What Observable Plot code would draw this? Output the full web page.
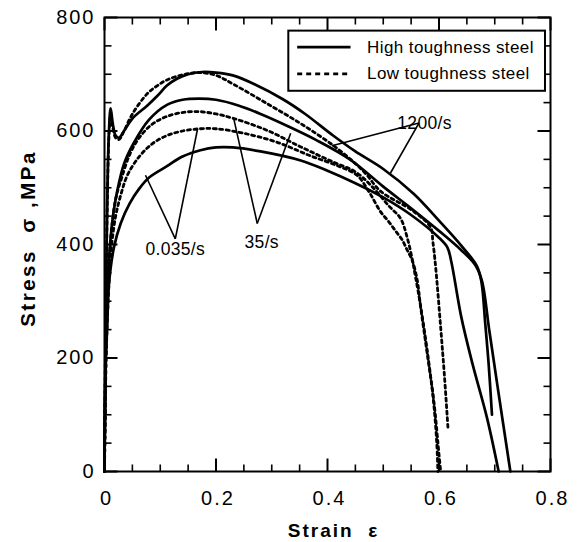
<!DOCTYPE html>
<html><head><meta charset="utf-8">
<script src="https://cdn.jsdelivr.net/npm/d3@7"></script>
<script src="https://cdn.jsdelivr.net/npm/@observablehq/plot@0.6"></script>
<style>
body{margin:0;background:#fff;}
#chart svg{font-family:"Liberation Sans",Arial,Helvetica,sans-serif;}
</style></head><body><div id="chart"></div>
<script>
// ---- data: [strain, stress MPa] ----
const highTough_0035 = [[0,0],[0.002,180],[0.005,260],[0.008,330],[0.017,395],[0.029,437],[0.045,472],[0.062,498],[0.08,518],[0.112,538],[0.14,555],[0.172,566],[0.2,571],[0.23,571],[0.28,564],[0.352,548],[0.4,530],[0.45,508],[0.5,483],[0.55,452],[0.6,412],[0.615,395],[0.622,370],[0.64,272],[0.66,190],[0.686,95],[0.707,0]];
const highTough_35 = [[0,0],[0.002,200],[0.005,320],[0.01,400],[0.016,455],[0.023,495],[0.035,542],[0.052,578],[0.08,620],[0.112,646],[0.14,655],[0.17,657],[0.2,655],[0.24,645],[0.28,630],[0.33,608],[0.38,584],[0.44,550],[0.5,502],[0.555,460],[0.6,424],[0.64,390],[0.665,364],[0.677,336],[0.69,250],[0.705,150],[0.728,0]];
const highTough_1200 = [[0,0],[0.002,250],[0.005,480],[0.008,600],[0.011,640],[0.015,612],[0.02,592],[0.026,588],[0.035,600],[0.05,622],[0.077,645],[0.095,662],[0.112,680],[0.13,692],[0.15,700],[0.175,704],[0.2,703],[0.23,698],[0.27,682],[0.32,656],[0.36,630],[0.41,592],[0.45,564],[0.5,533],[0.555,489],[0.6,442],[0.64,398],[0.668,362],[0.676,335],[0.683,260],[0.689,190],[0.695,100]];
const lowTough_0035 = [[0,0],[0.003,200],[0.007,310],[0.012,390],[0.02,450],[0.03,490],[0.041,522],[0.06,552],[0.085,577],[0.112,592],[0.14,600],[0.172,604],[0.2,604],[0.25,596],[0.31,580],[0.37,556],[0.42,538],[0.453,522],[0.475,492],[0.495,458],[0.51,440],[0.522,424],[0.534,408],[0.543,390],[0.552,372],[0.561,337],[0.567,290],[0.58,200],[0.591,122],[0.6,30],[0.603,0]];
const lowTough_35 = [[0,0],[0.003,230],[0.007,340],[0.012,420],[0.02,480],[0.03,515],[0.045,558],[0.06,585],[0.083,610],[0.11,625],[0.142,633],[0.172,634],[0.2,630],[0.232,622],[0.292,601],[0.352,572],[0.411,545],[0.45,528],[0.48,502],[0.51,468],[0.531,446],[0.543,412],[0.552,374],[0.558,342],[0.567,292],[0.58,205],[0.59,125],[0.596,50],[0.598,0]];
const lowTough_1200 = [[0,0],[0.002,250],[0.005,470],[0.008,590],[0.011,628],[0.015,605],[0.02,588],[0.026,585],[0.035,600],[0.05,630],[0.077,666],[0.095,680],[0.112,690],[0.14,699],[0.17,703],[0.2,698],[0.232,682],[0.292,648],[0.352,613],[0.411,574],[0.453,540],[0.471,522],[0.495,494],[0.555,458],[0.585,430],[0.589,405],[0.594,360],[0.603,254],[0.61,165],[0.616,78]];

const xTicks = [0, 0.2, 0.4, 0.6, 0.8];
const xTickLabels = ["0", "0.2", "0.4", "0.6", "0.8"];
const yTicks = [0, 200, 400, 600, 800];
const yTickLabels = ["0", "200", "400", "600", "800"];
const steels = ["High toughness steel", "Low toughness steel"];
const rateLabels = ["0.035/s", "35/s", "1200/s"];
const xTitle = "Strain\u00a0\u00a0ε";
const yTitle = "Stress\u00a0\u00a0σ\u00a0,MPa";

// ---- annotation layout (data units) ----
const labelAt = [[0.127, 391], [0.282, 404], [0.574, 613]];
const labelAnchor = ["middle", "middle", "start"];
const leaders = [
  [[0.127, 410], [0.0735, 522]], [[0.127, 410], [0.167, 604]],
  [[0.274, 437], [0.232, 621]], [[0.274, 437], [0.334, 596]],
  [[0.564, 614], [0.408, 574]], [[0.564, 614], [0.513, 526]]
];
const legendBox = {x1: 0.3306, x2: 0.791, y1: 776, y2: 670};
const legendRows = [{y: 747.7}, {y: 700.8}];
const legendSampleX = [0.3456, 0.4413];
const legendTextX = 0.471;

// ---- build rows ----
const rows = (pts, steel, rate) => pts.map(([s, v]) => ({strain: s, stress: v, steel, rate}));
const solidRows = [
  ...rows(highTough_0035, steels[0], rateLabels[0]),
  ...rows(highTough_35, steels[0], rateLabels[1]),
  ...rows(highTough_1200, steels[0], rateLabels[2])
];
const dottedRows = [
  ...rows(lowTough_0035, steels[1], rateLabels[0]),
  ...rows(lowTough_35, steels[1], rateLabels[1]),
  ...rows(lowTough_1200, steels[1], rateLabels[2])
];

const W = 578, H = 542, mL = 104, mR = 28, mT = 17, mB = 71;
const innerW = W - mL - mR, innerH = H - mT - mB;
const xDom = [0, 0.8], yDom = [0, 800];
// inward tick lengths (px) expressed in data units
const MAJ = 13, MIN = 7;
const xpp = (xDom[1] - xDom[0]) / innerW, ypp = (yDom[1] - yDom[0]) / innerH;
const xMinor = d3.range(0, 0.8001, 0.05).filter(v => Math.abs(v / 0.2 - Math.round(v / 0.2)) > 1e-6);
const yMinor = d3.range(0, 800.1, 50).filter(v => v % 200 !== 0);
const xTickMarks = (vals, len, w) => [
  Plot.link(vals, {x1: d => d, x2: d => d, y1: yDom[0], y2: yDom[0] + len * ypp, stroke: "black", strokeWidth: w}),
  Plot.link(vals, {x1: d => d, x2: d => d, y1: yDom[1], y2: yDom[1] - len * ypp, stroke: "black", strokeWidth: w})
];
const yTickMarks = (vals, len, w) => [
  Plot.link(vals, {y1: d => d, y2: d => d, x1: xDom[0], x2: xDom[0] + len * xpp, stroke: "black", strokeWidth: w}),
  Plot.link(vals, {y1: d => d, y2: d => d, x1: xDom[1], x2: xDom[1] - len * xpp, stroke: "black", strokeWidth: w})
];

const plot = Plot.plot({
  width: W, height: H,
  marginLeft: mL, marginRight: mR, marginTop: mT, marginBottom: mB,
  x: {domain: xDom, axis: null},
  y: {domain: yDom, axis: null},
  style: {background: "white", color: "black", fontFamily: '"Liberation Sans", Arial, Helvetica, sans-serif'},
  marks: [
    ...xTickMarks(xTicks, MAJ, 2),
    ...xTickMarks(xMinor, MIN, 1.6),
    ...yTickMarks(yTicks, MAJ, 2),
    ...yTickMarks(yMinor, MIN, 1.6),
    // curves
    Plot.line(dottedRows, {x: "strain", y: "stress", z: "rate", stroke: "black", strokeWidth: 2.8, strokeDasharray: "3,3.5", curve: "catmull-rom"}),
    Plot.line(solidRows, {x: "strain", y: "stress", z: "rate", stroke: "black", strokeWidth: 2.7, curve: "catmull-rom"}),
    // leader lines + rate labels
    Plot.link(leaders, {x1: d => d[0][0], y1: d => d[0][1], x2: d => d[1][0], y2: d => d[1][1], stroke: "black", strokeWidth: 1.6}),
    Plot.text(rateLabels, {x: (d, i) => labelAt[i][0], y: (d, i) => labelAt[i][1], text: d => d, textAnchor: (d, i) => labelAnchor[i], fontSize: 17.5, fill: "black"}),
    // legend
    Plot.rect([legendBox], {x1: "x1", x2: "x2", y1: "y1", y2: "y2", fill: "white", stroke: "black", strokeWidth: 2}),
    Plot.link([legendRows[0]], {x1: legendSampleX[0], x2: legendSampleX[1], y1: "y", y2: "y", stroke: "black", strokeWidth: 2.7}),
    Plot.link([legendRows[1]], {x1: legendSampleX[0], x2: legendSampleX[1], y1: "y", y2: "y", stroke: "black", strokeWidth: 2.8, strokeDasharray: "5,4"}),
    Plot.text(steels, {x: legendTextX, y: (d, i) => legendRows[i].y, text: d => d, textAnchor: "start", fontSize: 17, fill: "black"}),
    // tick labels
    Plot.text(xTicks, {x: d => d, text: (d, i) => xTickLabels[i], frameAnchor: "bottom", lineAnchor: "middle", textAnchor: "middle", dy: 27, dx: 2, fontSize: 20, fill: "black"}),
    Plot.text(yTicks, {y: d => d, text: (d, i) => yTickLabels[i], frameAnchor: "left", lineAnchor: "middle", textAnchor: "end", dx: -9, fontSize: 20, fill: "black"}),
    // axis titles
    Plot.text([xTitle], {text: d => d, frameAnchor: "bottom", lineAnchor: "middle", textAnchor: "middle", dy: 59, dx: 6, fontSize: 19, fontWeight: "bold", fill: "black"}),
    Plot.text([yTitle], {text: d => d, frameAnchor: "left", lineAnchor: "middle", textAnchor: "middle", dx: -76, dy: -6, rotate: -90, fontSize: 20.5, fontWeight: "bold", fill: "black"}),
    Plot.frame({stroke: "black", strokeWidth: 2})
  ]
});
// letter spacing of the scanned-figure typography
const spacing = new Map([
  ...xTickLabels.map(t => [t, "2px"]), ...yTickLabels.map(t => [t, "2px"]),
  ...rateLabels.map(t => [t, "0.3px"]), ...steels.map(t => [t, "0.4px"]),
  [xTitle, "2px"], [yTitle, "2.5px"]
]);
d3.select(plot).selectAll("text").each(function () {
  const s = spacing.get(this.textContent);
  if (s) this.style.letterSpacing = s;
});
document.getElementById("chart").appendChild(plot);
</script>
</body></html>
